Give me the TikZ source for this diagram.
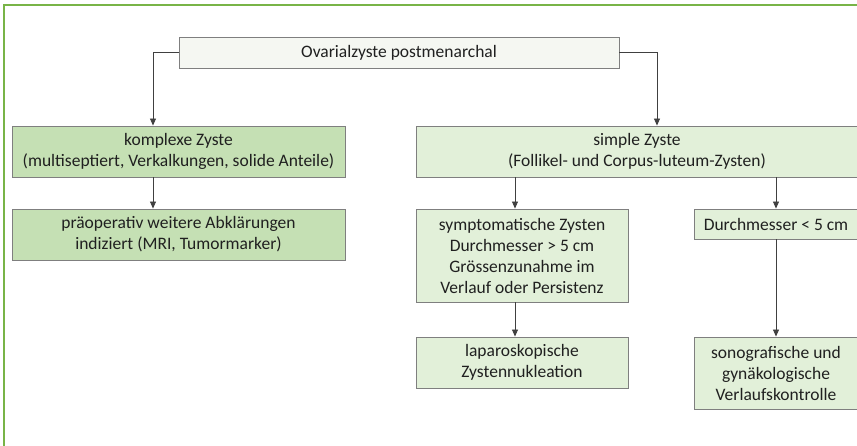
\documentclass[tikz,border=0pt]{standalone}
\usepackage{fontspec}
\setmainfont{Carlito}
\usetikzlibrary{arrows.meta}
\definecolor{framegreen}{HTML}{78B447}
\definecolor{darkfill}{HTML}{C5E0B4}
\definecolor{lightfill}{HTML}{E2F0D9}
\definecolor{rootfill}{HTML}{F5F7F2}
\definecolor{boxline}{HTML}{7F7F7F}
\definecolor{txt}{HTML}{202020}
\tikzset{
  box/.style={draw=boxline, line width=0.9pt, inner sep=0pt, align=center,
    text=txt, font=\fontsize{17.5}{21}\selectfont, anchor=center},
  conn/.style={draw=black!75, line width=0.8pt, -{Triangle[length=7pt,width=6pt]}},
}
\begin{document}
\begin{tikzpicture}[x=1pt,y=-1pt]
\useasboundingbox (0,0) rectangle (857,445);
\clip (0,0) rectangle (857,445);
\draw[framegreen, line width=1.8pt] (4.2,5) rectangle (880,470);
\node[box, fill=rootfill, minimum width=440pt, minimum height=31pt] (root) at (399,52.5) {Ovarialzyste postmenarchal};
\node[box, fill=darkfill, minimum width=333pt, minimum height=51pt] (komp) at (178.5,151.5) {komplexe Zyste\\(multiseptiert, Verkalkungen, solide Anteile)};
\node[box, fill=darkfill, minimum width=333pt, minimum height=51pt] (prae) at (178.5,234.5) {präoperativ weitere Abklärungen\\indiziert (MRI, Tumormarker)};
\node[box, fill=lightfill, minimum width=442pt, minimum height=51pt] (simple) at (637,151.5) {simple Zyste\\(Follikel- und Corpus-luteum-Zysten)};
\node[box, fill=lightfill, minimum width=212pt, minimum height=93pt] (symp) at (522,255.5) {symptomatische Zysten\\Durchmesser > 5 cm\\Grössenzunahme im\\Verlauf oder Persistenz};
\node[box, fill=lightfill, minimum width=164pt, minimum height=30pt] (durch) at (776,224) {Durchmesser < 5 cm};
\node[box, fill=lightfill, minimum width=212pt, minimum height=51pt] (lap) at (522,362.5) {laparoskopische\\Zystennukleation};
\node[box, fill=lightfill, minimum width=164pt, minimum height=72pt] (sono) at (776,373) {sonografische und\\gynäkologische\\Verlaufskontrolle};
\coordinate (kx) at (153,0);
\coordinate (sx) at (657,0);
\coordinate (lx) at (515,0);
\coordinate (rx) at (776,0);
\draw[conn] (root.west) -| (kx |- komp.north);
\draw[conn] (root.east) -| (sx |- simple.north);
\draw[conn] (kx |- komp.south) -- (kx |- prae.north);
\draw[conn] (lx |- simple.south) -- (lx |- symp.north);
\draw[conn] (rx |- simple.south) -- (rx |- durch.north);
\draw[conn] (lx |- symp.south) -- (lx |- lap.north);
\draw[conn] (rx |- durch.south) -- (rx |- sono.north);
\end{tikzpicture}
\end{document}
